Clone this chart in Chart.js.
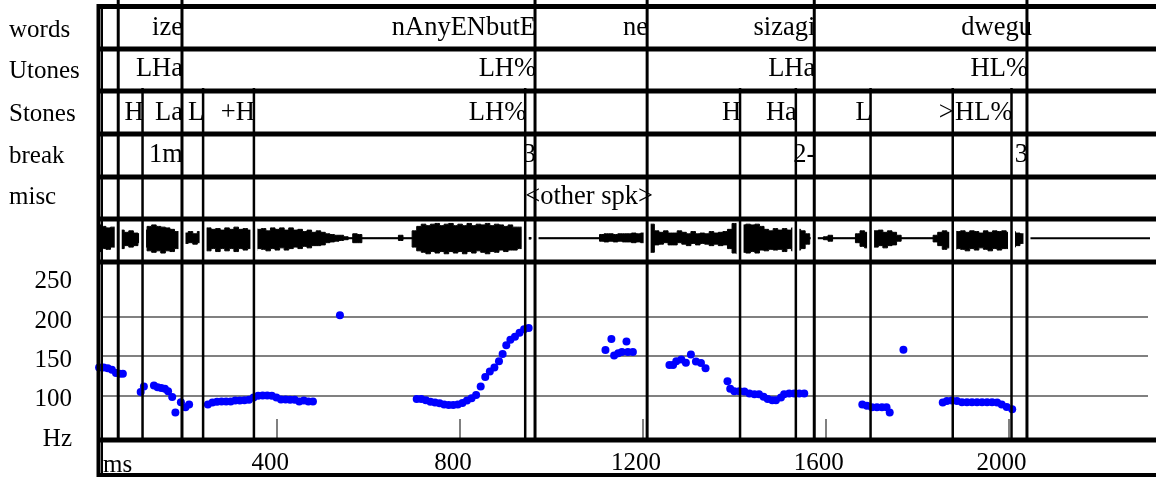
<!DOCTYPE html>
<html><head><meta charset="utf-8">
<script src="https://cdn.jsdelivr.net/npm/chart.js@4.4.1/dist/chart.umd.min.js"></script>
<style>html,body{margin:0;padding:0;background:#fff;} canvas{display:block;}</style>
</head><body>
<canvas id="c" width="1156" height="477"></canvas>
<script>
// ---------------- data ----------------
const tierNames = ['words', 'Utones', 'Stones', 'break', 'misc'];
const wordTimes = [191.4, 963.9, 1209.2, 1574.9, 2049];
const wordLabels = ['ize', 'nAnyENbutE', 'ne', 'sizagi', 'dwegu'];
const utoneTimes = [191.4, 963.9, 1574.9, 2040.3];
const utoneLabels = ['LHa', 'LH%', 'LHa', 'HL%'];
const stoneTimes = [105.1, 191.4, 237.6, 348.8, 942.4, 1412.5, 1534.6, 1698.1, 1877.9, 2006.5];
const stoneLabels = ['H', 'La', 'L', '+H', 'LH%', 'H', 'Ha', 'L', '>', 'HL%'];
const breakTimes = [191.4, 963.9, 1574.9, 2040.3];
const breakLabels = ['1m', '3', '2-', '3'];
const miscTimes = [942.4];
const miscLabels = ['<other spk>'];
const wordBounds = [51.9, 191.4, 963.9, 1209.2, 1574.9, 2040.3];
const toneBounds = [105.1, 237.6, 348.8, 942.4, 1412.5, 1534.6, 1698.1, 1877.9, 2006.5];
const msTicks = [400, 800, 1200, 1600, 2000];
const hzTicks = [50, 100, 150, 200, 250];
const hzGrid = [100, 150, 200];

const pitchTimes = [
  10,20,29,38,47,55,62,
  101,108,
  130,138,146,154,161,170,177,189,199,207,
  248,258,268,278,288,298,308,318,328,338,348,358,368,378,388,398,408,418,428,438,448,458,468,478,
  537,
  705,715,725,735,745,755,765,775,785,795,805,815,825,835,845,855,865,875,885,893,901,910,920,930,940,950,
  1118,1131,1137,1146,1154,1164,1167,1178,
  1258,1266,1273,1284,1294,1305,1316,1327,1337,
  1385,1391,1400,1411,1422,1433,1444,1454,1464,1473,1483,1491,1502,1509,1520,1531,1542,1553,
  1680,1690,1701,1712,1723,1733,1740,
  1770,
  1856,1865,1876,1887,1898,1909,1920,1931,1942,1953,1964,1975,1985,1996,2008
];
const pitchHz = [
  136,136,135,133,129,128,128,
  105,112,
  113,111,110,109,106,98.5,79,92,85.5,89,
  89,91.5,92.5,93,93,93,94,94,94.5,95,98,100,100.5,100.5,100,98,95.5,95.5,95,95,93,94,93,93,
  202,
  96,96,94.5,92.5,91.5,90.5,89,88.5,88.5,89,91,94,97,101,112,124,131,136,144,153,164,171,175,180,184.5,186,
  158,172,151,154,155.5,169,155.5,155.5,
  139,139,144,146,142,152.5,143.5,141.5,135,
  118.5,109,106,106,105.5,103,102,102,99,96,94.5,94.5,98,102,103,103,103,103,
  89,87.5,85.5,85.5,85.5,85.5,79,
  158.5,
  91.5,93.5,94,93.5,92,92,92,92,92,92,92,91.5,89,86,83
];

// waveform envelope, one value every 10 ms from 0 ms (normalised amplitude)
const waveStepMs = 10;
const waveTop = [
  .95,.9,.8,.7,.75,.45,.55,.4,.5,.35,
  .3,.55,.8,.9,.8,.75,.7,.6,.45,.2,
  .35,.45,.3,.45,.55,.7,.6,.65,.55,.7,
  .6,.75,.6,.65,.55,.7,.6,.65,.5,.7,
  .6,.7,.55,.7,.55,.6,.45,.55,.4,.5,
  .4,.3,.25,.2,.2,.1,0,.3,.25,0,
  0,0,0,0,0,0,0,.2,0,0,
  .5,.8,.95,.85,.95,1,.85,.95,1,.85,
  .95,.85,1,.85,.95,.9,1,.85,.95,.9,
  .8,.9,.75,.75,.6,.05,0,0,0,0,
  0,0,0,0,0,0,0,0,0,0,
  0,.25,.3,.3,.25,.3,.3,.3,.35,.3,
  .35,.4,.95,.5,.4,.5,.35,.35,.5,.4,
  .3,.45,.3,.35,.3,.45,.35,.4,.45,.6,
  1,1,.9,.95,.9,.95,.8,.6,.5,.65,
  .55,.65,.55,.7,.6,.5,.3,0,0,0,
  .1,.2,0,0,0,0,0,.3,.5,.4,
  .55,.5,.55,.4,.5,.4,.2,0,0,0,
  0,0,0,0,.2,.4,.5,.4,.5,.45,
  .5,.4,.5,.45,.35,.5,.4,.5,.45,.5,
  .4,.45,.35,.3,.1
];
const waveBottom = [
  .93,.9,.7,.75,.6,.6,.7,.5,.6,.5,
  .3,.6,.85,.95,.85,1,.85,.9,.7,.25,
  .35,.3,.4,.3,.6,.85,.7,.9,.7,.85,
  .7,.9,.7,.8,.7,.85,.7,.75,.85,.7,
  .8,.65,.8,.7,.6,.7,.55,.65,.5,.5,
  .45,.3,.25,.2,.15,.1,0,.3,.3,0,
  0,0,0,0,0,0,0,.15,0,0,
  .6,.85,.95,1.05,.9,1,.9,1.05,.9,1,
  .9,1.05,.9,1,.85,.95,1.05,.9,.95,.8,
  .9,.8,.8,.7,.6,.05,0,0,0,0,
  0,0,0,0,0,0,0,0,0,0,
  0,.2,.25,.2,.25,.2,.25,.25,.3,.25,
  .3,.35,.95,.45,.4,.3,.45,.45,.3,.4,
  .5,.35,.45,.35,.4,.5,.4,.5,.45,.7,
  1,1.05,.95,1,.9,1,.8,.85,.75,.8,
  .75,.9,.7,.85,.8,.7,.4,0,0,0,
  .1,.2,0,0,0,0,0,.3,.55,.65,
  .5,.6,.5,.65,.5,.45,.2,0,0,0,
  0,0,0,0,.25,.5,.75,.65,.8,.7,
  .75,.85,.7,.8,.65,.75,.85,.7,.8,.7,
  .7,.6,.5,.35,.15
];

// ---------------- drawing ----------------
const FAMILY = "'Liberation Serif', 'Times New Roman', serif";
const NAME_FONT = "25px " + FAMILY;
const LABEL_FONT = "26.5px " + FAMILY;
Chart.defaults.font.family = FAMILY;
Chart.defaults.font.size = 25;
Chart.defaults.color = '#000';

const tiers = [
  {times: wordTimes, labels: wordLabels, align: 'right'},
  {times: utoneTimes, labels: utoneLabels, align: 'right'},
  {times: stoneTimes, labels: stoneLabels, align: 'right'},
  {times: breakTimes, labels: breakLabels, align: 'right'},
  {times: miscTimes, labels: miscLabels, align: 'left'}
];
const tierBaselines = [34.5, 76, 119.5, 161.5, 203.5];
const nameBaselines = [37, 78, 121, 163, 204];
const hLines = [6.5, 49, 91, 134, 177, 219, 262, 440];

const textGrid = {
  id: 'textGrid',
  beforeDatasetsDraw(chart) {
    const ctx = chart.ctx, xs = chart.scales.x, ys = chart.scales.y;
    ctx.save();
    ctx.strokeStyle = '#808080';
    ctx.lineWidth = 2;
    hzGrid.forEach(v => {
      const py = Math.round(ys.getPixelForValue(v));
      ctx.beginPath(); ctx.moveTo(102, py); ctx.lineTo(1148, py); ctx.stroke();
    });
    xs.ticks.forEach(t => {
      const px = Math.round(xs.getPixelForValue(t.value));
      ctx.beginPath(); ctx.moveTo(px, 419); ctx.lineTo(px, 440); ctx.stroke();
    });
    ctx.restore();
  },
  afterDatasetsDraw(chart) {
    const ctx = chart.ctx, yw = chart.scales.yw;
    ctx.save();
    ctx.strokeStyle = '#000'; ctx.lineWidth = 2;
    const py = yw.getPixelForValue(0);
    ctx.beginPath(); ctx.moveTo(97, py); ctx.lineTo(1150, py); ctx.stroke();
    ctx.restore();
  },
  afterDraw(chart) {
    const ctx = chart.ctx, xs = chart.scales.x;
    const X = t => xs.getPixelForValue(t);
    ctx.save();
    // white halo of boundaries inside waveform row
    ctx.strokeStyle = '#fff';
    wordBounds.concat(toneBounds).forEach(t => {
      ctx.lineWidth = 7;
      ctx.beginPath(); ctx.moveTo(X(t), 223); ctx.lineTo(X(t), 258); ctx.stroke();
    });
    // boundaries
    ctx.strokeStyle = '#000';
    ctx.lineWidth = 3;
    wordBounds.forEach(t => {
      ctx.beginPath(); ctx.moveTo(X(t), 0); ctx.lineTo(X(t), 440); ctx.stroke();
    });
    ctx.lineWidth = 2.5;
    toneBounds.forEach(t => {
      ctx.beginPath(); ctx.moveTo(X(t), 88); ctx.lineTo(X(t), 440); ctx.stroke();
    });
    // horizontal frame lines
    ctx.lineWidth = 5;
    hLines.forEach(y => {
      ctx.beginPath(); ctx.moveTo(97, y); ctx.lineTo(1156, y); ctx.stroke();
    });
    ctx.lineWidth = 4;
    ctx.beginPath(); ctx.moveTo(97, 475); ctx.lineTo(1156, 475); ctx.stroke();
    // left double border
    ctx.lineWidth = 4;
    ctx.beginPath(); ctx.moveTo(98.5, 4); ctx.lineTo(98.5, 477); ctx.stroke();
    ctx.lineWidth = 2;
    ctx.beginPath(); ctx.moveTo(102, 4); ctx.lineTo(102, 477); ctx.stroke();
    // texts
    ctx.fillStyle = '#000';
    ctx.textBaseline = 'alphabetic';
    ctx.textAlign = 'left';
    ctx.font = NAME_FONT;
    tierNames.forEach((n, i) => ctx.fillText(n, 9, nameBaselines[i]));
    ctx.font = LABEL_FONT;
    tiers.forEach((tr, i) => {
      ctx.textAlign = tr.align;
      tr.times.forEach((t, j) => {
        const px = X(t) + (tr.align === 'right' ? 1 : 0);
        ctx.fillText(tr.labels[j], px, tierBaselines[i]);
      });
    });
    ctx.font = NAME_FONT;
    ctx.textAlign = 'left';
    ctx.fillText('ms', 103, 472);
    ctx.restore();
  }
};

new Chart(document.getElementById('c'), {
  type: 'scatter',
  data: {
    datasets: [
      {
        type: 'line',
        data: waveTop.map((a, i) => ({x: i * waveStepMs, y: a})),
        yAxisID: 'yw', borderColor: '#000', borderWidth: 1, pointRadius: 0,
        backgroundColor: '#000', fill: '+1', stepped: 'middle'
      },
      {
        type: 'line',
        data: waveBottom.map((a, i) => ({x: i * waveStepMs, y: -a})),
        yAxisID: 'yw', borderColor: '#000', borderWidth: 1, pointRadius: 0,
        fill: false, stepped: 'middle'
      },
      {
        type: 'scatter',
        data: pitchTimes.map((t, i) => ({x: t, y: pitchHz[i]})),
        yAxisID: 'y', pointRadius: 4, pointBackgroundColor: '#0000ff',
        backgroundColor: '#0000ff', borderWidth: 0, pointBorderWidth: 0, clip: false
      }
    ]
  },
  options: {
    responsive: false, animation: false, devicePixelRatio: 1,
    layout: {padding: {top: 219, left: 0, right: 0, bottom: 0}},
    plugins: {legend: {display: false}, tooltip: {enabled: false}, title: {display: false}},
    scales: {
      x: {
        type: 'linear', position: 'bottom', min: 5.45, max: 2313.9,
        grid: {display: false, drawTicks: false}, border: {display: false},
        ticks: {padding: 11, labelOffset: -7, maxRotation: 0, autoSkip: false,
                font: {size: 25}, color: '#000', callback: v => String(v)},
        afterBuildTicks: s => { s.ticks = msTicks.map(v => ({value: v})); },
        afterFit: s => { s.height = 37; }
      },
      y: {
        type: 'linear', position: 'left', min: 47.875, max: 324.125,
        grid: {display: false, drawTicks: false}, border: {display: false},
        ticks: {padding: 25, labelOffset: 4, font: {size: 25}, color: '#000',
                callback: v => (v === 50 ? 'Hz' : String(v))},
        afterBuildTicks: s => { s.ticks = hzTicks.map(v => ({value: v})); },
        afterFit: s => { s.width = 97; }
      },
      yw: {
        type: 'linear', display: false, min: -13.433, max: 1.3
      }
    }
  },
  plugins: [textGrid]
});
</script>
</body></html>
